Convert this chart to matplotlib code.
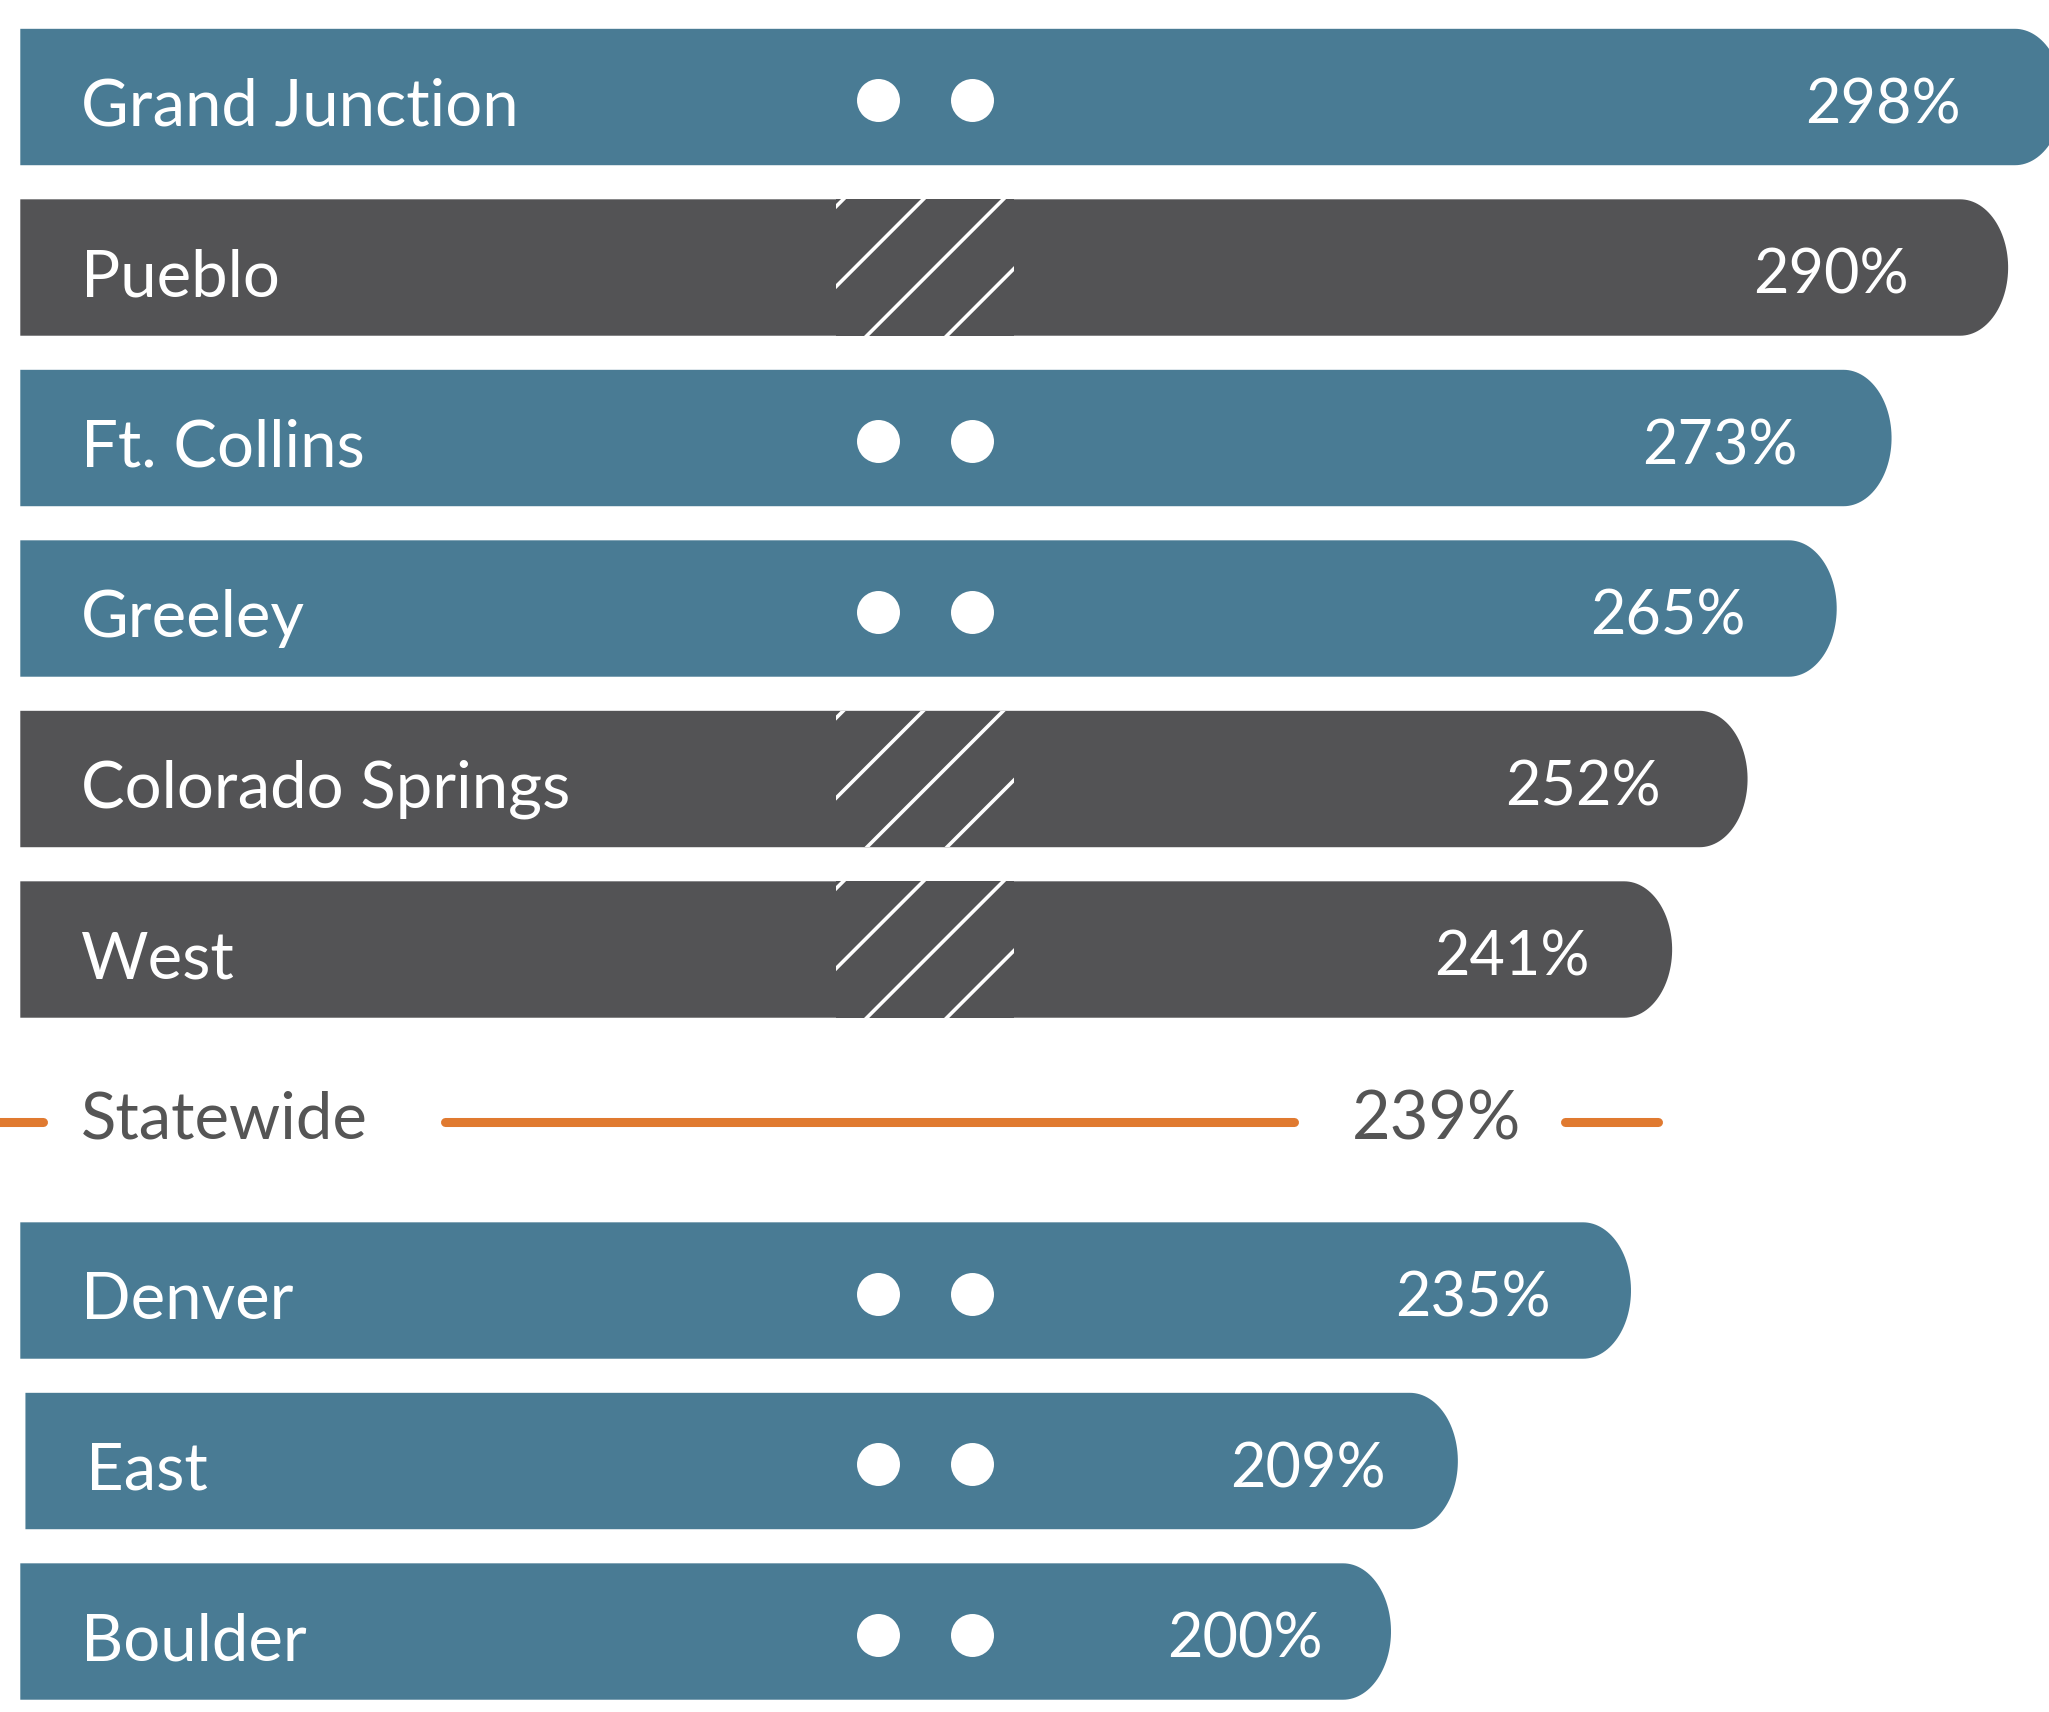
import numpy as np
import matplotlib.pyplot as plt
from matplotlib.patches import Polygon, Rectangle

plt.rcParams['font.family'] = ['Lato', 'DejaVu Sans']

# data
CITIES = ["Grand Junction", "Pueblo", "Ft. Collins", "Greeley", "Colorado Springs",
          "West", "Denver", "East", "Boulder"]
VALUES = [298, 290, 273, 265, 252, 241, 235, 209, 200]
KINDS = ["dots", "hatch", "dots", "dots", "hatch", "hatch", "dots", "dots", "dots"]
STATE_LABEL = "Statewide"
STATE_VALUE = 239

# style
BLUE = "#497b94"
DARK = "#535355"
ORANGE = "#e07a30"
GRAY = "#555555"

BAR_H = 0.80          # in rows
CAP_PX = 48           # width of the rounded end, pixels
MARK_SPAN = (119.1, 145.0)   # column holding the dots / hatch
DOT_GAP = 6.8
ROW_SHIFT = {"East": 0.75}
STATE_BREAKS = [(-6, 3.4), (62.0, 185.8), (225.4, STATE_VALUE)]


def px_scale(ax):
    p0 = ax.transData.transform((0, 0))
    p1 = ax.transData.transform((1, 1))
    return abs(p1[0] - p0[0]), abs(p1[1] - p0[1])


def rounded_bar(ax, x0, x1, yc, color, sx):
    ry = BAR_H / 2
    rx = CAP_PX / sx
    t = np.linspace(np.pi / 2, -np.pi / 2, 60)
    ex = x1 - rx + rx * np.cos(t)
    ey = yc - ry * np.sin(t)
    pts = [(x0, yc - ry)] + list(zip(ex, ey)) + [(x0, yc + ry)]
    ax.add_patch(Polygon(pts, closed=True, fc=color, ec="none", lw=0, zorder=1))


def hatch_block(ax, yc, sx, sy):
    left, right = MARK_SPAN
    top = yc - BAR_H / 2
    rect = Rectangle((left, top), right - left, BAR_H, fc=DARK, ec="none", zorder=2)
    ax.add_patch(rect)
    h = BAR_H * sy
    for k in range(-1, 5):
        s = 7 + 80 * k
        xs = np.array([s + h, s - 2 * h])
        ys = np.array([-h, 2 * h])
        line, = ax.plot(left + xs / sx, top + ys / sy, color="white", lw=2.6, zorder=3)
        line.set_clip_path(rect)


def main():
    fig = plt.figure(figsize=(20.49, 17.12), dpi=100)
    ax = fig.add_axes([0, 0, 1, 1])
    ax.set_xlim(-2.86, 295.96)
    ax.set_ylim(9.472, -0.569)
    ax.axis("off")
    sx, sy = px_scale(ax)

    # statewide goes in the slot given by its value
    n_above = sum(v > STATE_VALUE for v in VALUES)
    rows = list(range(n_above)) + list(range(n_above + 1, len(VALUES) + 1))

    center = sum(MARK_SPAN) / 2
    for name, val, kind, row in zip(CITIES, VALUES, KINDS, rows):
        dx = ROW_SHIFT.get(name, 0)
        color = BLUE if kind == "dots" else DARK
        rounded_bar(ax, 0.1 + dx, val + dx, row, color, sx)
        if kind == "hatch":
            hatch_block(ax, row, sx, sy)
        else:
            ax.scatter([center - DOT_GAP, center + DOT_GAP], [row + 0.018] * 2,
                       s=958, color="white", linewidths=0, zorder=3)
        ax.text(8.9 + dx, row + 0.168, name, color="white", fontsize=47,
                ha="left", va="baseline", zorder=4)
        ax.text(0.95 * val + dx, row + 0.155, f"{val}%", color="white", fontsize=44,
                ha="right", va="baseline", zorder=4)

    srow = n_above
    for a, b in STATE_BREAKS:
        ax.plot([a, b], [srow + 0.012] * 2, color=ORANGE, lw=6.5,
                solid_capstyle="round", zorder=2)
    ax.text(8.9, srow + 0.11, STATE_LABEL, color=GRAY, fontsize=47,
            ha="left", va="baseline")
    ax.text((STATE_BREAKS[1][1] + STATE_BREAKS[2][0]) / 2 + 1.0, srow + 0.115,
            f"{STATE_VALUE}%", color=GRAY, fontsize=48, ha="center", va="baseline")

    fig.savefig("out.png", dpi=100, facecolor="white")
    plt.close(fig)


if __name__ == "__main__":
    main()
